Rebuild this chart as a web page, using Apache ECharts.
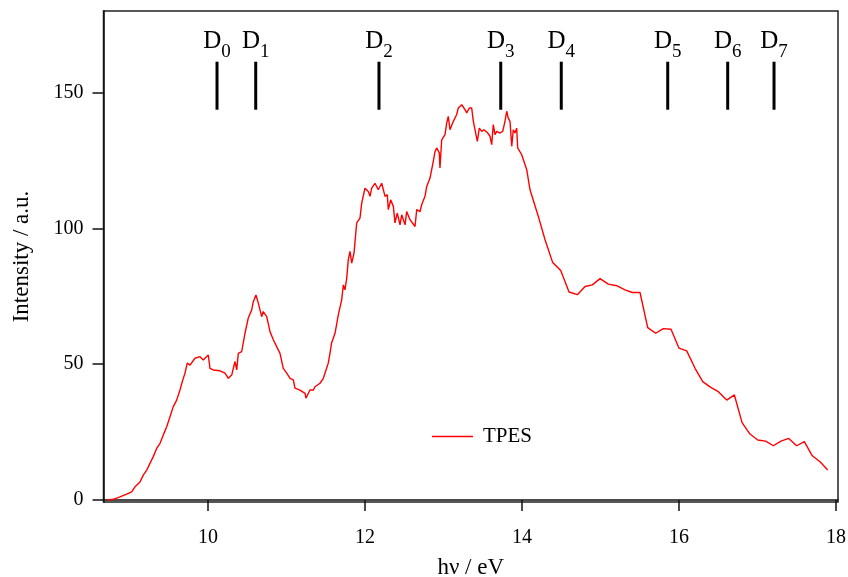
<!DOCTYPE html>
<html>
<head>
<meta charset="utf-8">
<script src="https://cdn.jsdelivr.net/npm/echarts@6/dist/echarts.min.js"></script>
<style>
  html, body { margin: 0; padding: 0; background: #fff; }
  #chart { width: 848px; height: 577px; }
</style>
</head>
<body>
<div id="chart"></div>
<script>
// photon energy (eV) and TPES intensity
const energy = [
  8.710, 8.794, 8.879, 8.964, 9.028, 9.070, 9.134, 9.176, 9.219, 9.261,
  9.303, 9.346, 9.389, 9.431, 9.474, 9.516, 9.558, 9.601, 9.643, 9.685,
  9.707, 9.736, 9.771, 9.834, 9.898, 9.940, 10.004, 10.025, 10.068, 10.089,
  10.153, 10.217, 10.259, 10.302, 10.344, 10.366, 10.386, 10.429, 10.471, 10.513,
  10.557, 10.577, 10.611, 10.641, 10.684, 10.704, 10.748, 10.790, 10.832, 10.875,
  10.917, 10.959, 11.003, 11.045, 11.087, 11.108, 11.172, 11.236, 11.248, 11.299,
  11.341, 11.363, 11.427, 11.469, 11.490, 11.532, 11.554, 11.573, 11.618, 11.660,
  11.703, 11.724, 11.745, 11.767, 11.787, 11.809, 11.831, 11.860, 11.894, 11.936,
  11.958, 12.000, 12.042, 12.064, 12.085, 12.127, 12.169, 12.213, 12.255, 12.284,
  12.297, 12.327, 12.361, 12.382, 12.411, 12.446, 12.468, 12.510, 12.531, 12.573,
  12.637, 12.659, 12.701, 12.722, 12.764, 12.786, 12.828, 12.870, 12.892, 12.913,
  12.946, 12.955, 12.977, 13.019, 13.041, 13.061, 13.083, 13.125, 13.168, 13.188,
  13.232, 13.274, 13.296, 13.329, 13.359, 13.380, 13.401, 13.431, 13.456, 13.487,
  13.516, 13.541, 13.563, 13.592, 13.614, 13.634, 13.656, 13.678, 13.720, 13.754,
  13.783, 13.805, 13.825, 13.847, 13.869, 13.889, 13.911, 13.932, 13.945, 13.996,
  14.060, 14.102, 14.208, 14.293, 14.391, 14.493, 14.599, 14.705, 14.803, 14.896,
  14.994, 15.099, 15.206, 15.312, 15.405, 15.503, 15.601, 15.703, 15.800, 15.898,
  16.000, 16.098, 16.204, 16.302, 16.404, 16.501, 16.608, 16.705, 16.803, 16.904,
  17.003, 17.104, 17.201, 17.299, 17.397, 17.499, 17.596, 17.698, 17.796, 17.894
];
const intensity = [
  0.0, 0.3, 1.2, 2.2, 3.0, 4.9, 6.7, 9.2, 11.0, 13.5,
  16.0, 19.0, 20.9, 24.0, 27.0, 30.7, 34.4, 36.8, 40.5, 44.8,
  46.7, 50.4, 49.7, 52.2, 52.8, 51.6, 53.4, 48.5, 47.9, 47.9,
  47.6, 46.7, 44.8, 46.0, 51.0, 47.9, 54.0, 54.6, 61.4, 67.0,
  70.0, 73.0, 75.5, 72.5, 67.5, 69.4, 67.5, 62.0, 59.0, 56.5,
  54.0, 48.5, 46.7, 44.8, 44.2, 41.2, 40.5, 39.3, 37.5, 40.5,
  40.5, 41.7, 43.0, 44.8, 46.7, 50.4, 54.0, 57.7, 61.4, 68.2,
  73.7, 79.2, 77.4, 81.7, 88.4, 91.5, 87.2, 90.9, 102.0, 103.8,
  109.3, 114.8, 113.6, 111.8, 114.8, 116.6, 114.2, 116.6, 111.8, 112.4,
  106.9, 110.5, 108.1, 102.0, 105.6, 101.3, 105.0, 101.3, 106.2, 103.2,
  100.7, 106.9, 106.2, 108.7, 111.8, 115.4, 118.5, 124.7, 128.3, 129.6,
  127.8, 122.2, 132.6, 134.5, 138.8, 141.2, 136.3, 139.4, 141.9, 144.3,
  145.5, 143.7, 142.5, 144.3, 144.3, 139.4, 138.8, 132.0, 136.9, 135.7,
  136.3, 136.9, 135.1, 133.9, 130.8, 138.2, 134.5, 135.7, 135.1, 135.7,
  139.4, 143.1, 140.6, 139.4, 130.2, 136.3, 135.1, 136.9, 129.6, 127.1,
  121.6, 114.2, 104.4, 95.8, 87.4, 84.5, 76.6, 75.6, 78.6, 79.2,
  81.5, 79.5, 78.9, 77.4, 76.4, 76.4, 63.5, 61.4, 63.1, 62.9,
  55.9, 54.9, 48.5, 43.6, 41.5, 39.9, 36.8, 38.7, 28.5, 24.3,
  22.1, 21.7, 20.0, 21.7, 22.7, 20.0, 21.5, 16.3, 14.1, 11.1
];

// cation state markers D0..D7
const stateNames = ['0', '1', '2', '3', '4', '5', '6', '7'];
const stateEnergy = [10.115, 10.608, 12.178, 13.729, 14.50, 15.856, 16.62, 17.21];
const stateLevel = 152.5;

const xTicks = [10, 12, 14, 16, 18];
const yTicks = [0, 50, 100, 150];

const FONT = '"Liberation Serif", "Times New Roman", serif';
const INK = '#000';

const chart = echarts.init(document.getElementById('chart'));

chart.setOption({
  animation: false,
  backgroundColor: '#fff',
  grid: {
    left: 103.5, right: 10, top: 11, bottom: 75,
    show: true, borderColor: '#222', borderWidth: 1.5,
    outerBoundsMode: 'none'
  },
  legend: {
    left: 427, top: 421,
    itemWidth: 41, itemHeight: 1.5,
    icon: 'rect',
    data: ['TPES'],
    textStyle: { fontFamily: FONT, fontSize: 21, color: INK, padding: [0, 0, 0, 5] }
  },
  xAxis: {
    type: 'value',
    min: 8.669, max: 18.025,
    name: 'hν / eV',
    nameLocation: 'middle',
    nameGap: 54,
    nameTextStyle: { fontFamily: FONT, fontSize: 23, color: INK },
    axisLine: { lineStyle: { color: '#111', width: 1.5 } },
    axisTick: { show: true, inside: false, length: 11, customValues: xTicks, lineStyle: { color: '#111', width: 1.5 } },
    axisLabel: { customValues: xTicks, margin: 26, fontFamily: FONT, fontSize: 20, color: INK },
    splitLine: { show: false }
  },
  yAxis: {
    type: 'value',
    min: -0.7, max: 180,
    name: 'Intensity / a.u.',
    nameLocation: 'middle',
    nameGap: 70,
    nameRotate: 90,
    nameTextStyle: { fontFamily: FONT, fontSize: 23, color: INK },
    axisLine: { show: true, lineStyle: { color: '#111', width: 1.5 } },
    axisTick: { show: true, inside: false, length: 11, customValues: yTicks, lineStyle: { color: '#111', width: 1.5 } },
    axisLabel: { customValues: yTicks, margin: 20, fontFamily: FONT, fontSize: 20, color: INK },
    splitLine: { show: false }
  },
  series: [
    {
      name: 'TPES',
      type: 'line',
      symbol: 'none',
      data: energy.map((e, i) => [e, intensity[i]]),
      lineStyle: { color: '#ff0000', width: 1.4 },
      itemStyle: { color: '#ff0000' }
    },
    {
      name: 'states',
      type: 'scatter',
      symbol: 'rect',
      symbolSize: [3, 48],
      itemStyle: { color: '#000', opacity: 1 },
      data: stateEnergy.map((e, i) => ({ value: [e, stateLevel], name: stateNames[i] })),
      label: {
        show: true,
        position: 'top',
        distance: 3,
        formatter: p => '{d|D}{s|' + p.name + '}',
        rich: {
          d: { fontFamily: FONT, fontSize: 25, color: INK, lineHeight: 30, verticalAlign: 'top' },
          s: { fontFamily: FONT, fontSize: 19, color: INK, lineHeight: 19, verticalAlign: 'top', padding: [14, 0, 0, 0] }
        }
      },
      emphasis: { disabled: true }
    }
  ]
});
</script>
</body>
</html>
